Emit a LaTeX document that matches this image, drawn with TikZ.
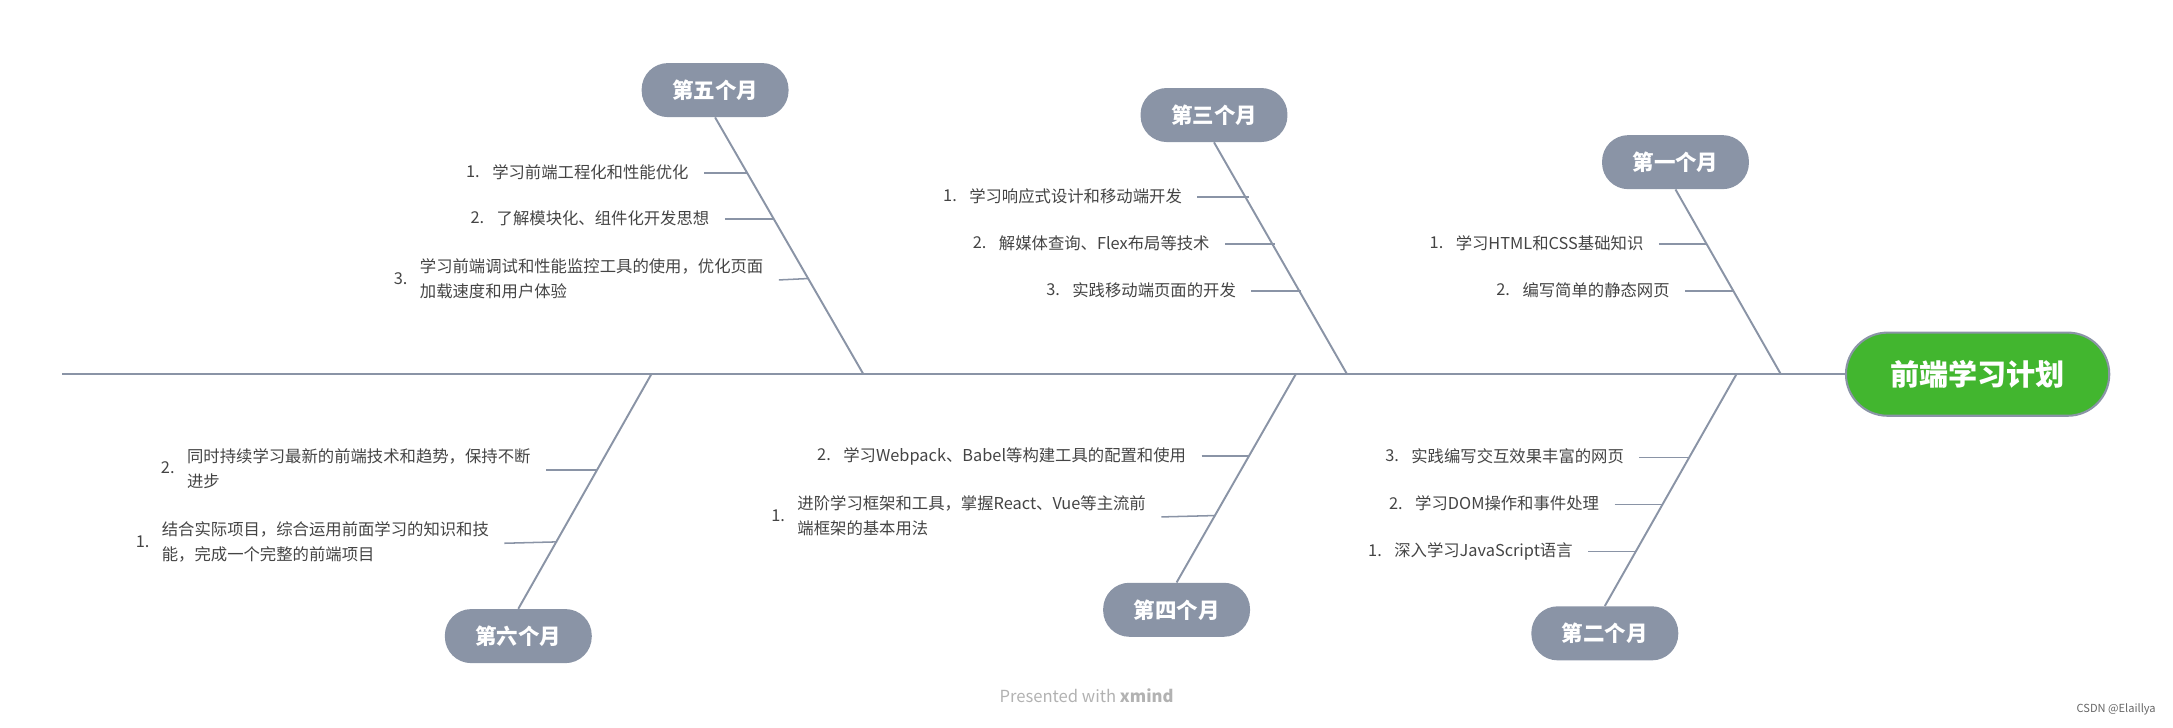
\documentclass[tikz,border=0pt]{standalone}
\usepackage{fontspec}
\setmainfont{Noto Sans CJK SC}
\definecolor{lg}{HTML}{8A94A6}
\definecolor{tg}{HTML}{444444}
\definecolor{gr}{HTML}{42B62F}
\newcommand{\itm}[2]{\begin{tabular}{@{}l@{\hspace{9pt}}l@{}}#1.&\begin{tabular}{@{}l@{}}#2\end{tabular}\end{tabular}}
\begin{document}
\begin{tikzpicture}[x=1pt,y=-1pt,
  ln/.style={draw=lg,line width=1.4pt},
  sub/.style={draw=lg,line width=1.1pt},
  month/.style={fill=lg,rounded corners=19pt,minimum width=106pt,minimum height=39pt,text=white,font=\fontsize{15.5}{17}\selectfont\bfseries},
  item/.style={anchor=east,text=tg,font=\fontsize{11.8}{18}\selectfont,inner sep=0pt},
  gap/.style={xshift=11pt}]
\useasboundingbox (0,0) rectangle (1568,525);
\node[draw=lg,line width=1.5pt,fill=gr,rounded corners=30pt,minimum width=190pt,minimum height=60pt,text=white,font=\fontsize{21}{24}\selectfont\bfseries] (main) at (1427,270) {前端学习计划};
\coordinate (sL) at (45,270);
\draw[ln] (sL) -- (main.west);
% month nodes
\node[month] (m1) at (1209,117) {第一个月};
\node[month] (m3) at (876,83) {第三个月};
\node[month] (m5) at (516,65) {第五个月};
\node[month] (m2) at (1158,457) {第二个月};
\node[month] (m4) at (849,440) {第四个月};
\node[month] (m6) at (374,459) {第六个月};
\coordinate (j1) at (1285,270); \coordinate (j3) at (972,270); \coordinate (j5) at (623,270);
\coordinate (j2) at (1253,270); \coordinate (j4) at (935,270); \coordinate (j6) at (470,270);
\draw[ln] (m1.south) -- (j1); \draw[ln] (m3.south) -- (j3); \draw[ln] (m5.south) -- (j5);
\draw[ln] (m2.north) -- (j2); \draw[ln] (m4.north) -- (j4); \draw[ln] (m6.north) -- (j6);
% month 1
\coordinate (b1a) at (1232,176); \coordinate (b1b) at (1251,210);
\node[item] (t1a) at (1186,176) {\itm{1}{学习HTML和CSS基础知识}};
\node[item] (t1b) at (1205,210) {\itm{2}{编写简单的静态网页}};
\draw[sub] ([gap]t1a.east) -- (b1a); \draw[sub] ([gap]t1b.east) -- (b1b);
% month 3
\coordinate (b3a) at (901,142); \coordinate (b3b) at (920,176); \coordinate (b3c) at (939,210);
\node[item] (t3a) at (853,142) {\itm{1}{学习响应式设计和移动端开发}};
\node[item] (t3b) at (873,176) {\itm{2}{解媒体查询、Flex布局等技术}};
\node[item] (t3c) at (892,210) {\itm{3}{实践移动端页面的开发}};
\draw[sub] ([gap]t3a.east) -- (b3a); \draw[sub] ([gap]t3b.east) -- (b3b); \draw[sub] ([gap]t3c.east) -- (b3c);
% month 5
\coordinate (b5a) at (539,125); \coordinate (b5b) at (558,158); \coordinate (b5c) at (583,201);
\node[item] (t5a) at (497,125) {\itm{1}{学习前端工程化和性能优化}};
\node[item] (t5b) at (512,158) {\itm{2}{了解模块化、组件化开发思想}};
\node[item] (t5c) at (551,202) {\itm{3}{学习前端调试和性能监控工具的使用，优化页面\\加载速度和用户体验}};
\draw[sub] ([gap]t5c.east) -- (b5c) ; \draw[sub] ([gap]t5a.east) -- (b5a); \draw[sub] ([gap]t5b.east) -- (b5b);
% month 2
\coordinate (b2a) at (1219,330); \coordinate (b2b) at (1200,364); \coordinate (b2c) at (1180,398);
\node[item] (t2a) at (1172,330) {\itm{3}{实践编写交互效果丰富的网页}};
\node[item] (t2b) at (1154,364) {\itm{2}{学习DOM操作和事件处理}};
\node[item] (t2c) at (1135,398) {\itm{1}{深入学习JavaScript语言}};
\draw[sub] ([gap]t2a.east) -- (b2a); \draw[sub] ([gap]t2b.east) -- (b2b); \draw[sub] ([gap]t2c.east) -- (b2c);
% month 4
\coordinate (b4a) at (901,329); \coordinate (b4b) at (877,372);
\node[item] (t4a) at (856,329) {\itm{2}{学习Webpack、Babel等构建工具的配置和使用}};
\node[item] (t4b) at (827,373) {\itm{1}{进阶学习框架和工具，掌握React、Vue等主流前\\端框架的基本用法}};
\draw[sub] ([gap]t4a.east) -- (b4a); \draw[sub] ([gap]t4b.east) -- (b4b);
% month 6
\coordinate (b6a) at (431,339); \coordinate (b6b) at (402,391);
\node[item] (t6a) at (383,339) {\itm{2}{同时持续学习最新的前端技术和趋势，保持不断\\进步}};
\node[item] (t6b) at (353,392) {\itm{1}{结合实际项目，综合运用前面学习的知识和技\\能，完成一个完整的前端项目}};
\draw[sub] ([gap]t6a.east) -- (b6a); \draw[sub] ([gap]t6b.east) -- (b6b);
% footer
\node[text=black!30,font=\fontsize{12}{13}\selectfont] (pw) at (784,502) {Presented with \textbf{xmind}};
\node[text=black!60,font=\fontsize{8}{10}\selectfont] (cs) at (1527,512) {CSDN @Elaillya};
\end{tikzpicture}
\end{document}
